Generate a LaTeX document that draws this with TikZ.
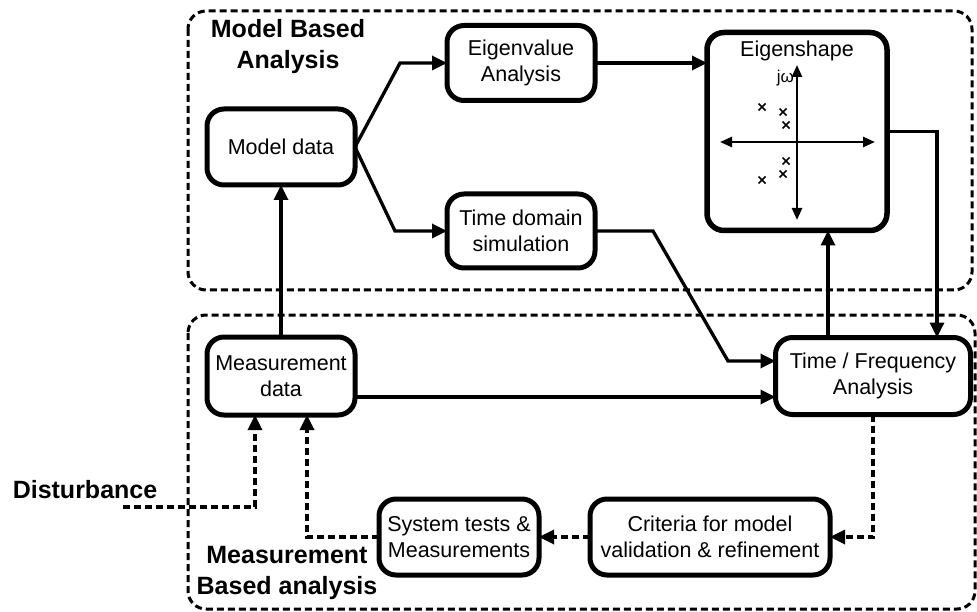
\documentclass[tikz,border=0pt]{standalone}
\usepackage{fontspec}
\setmainfont{Liberation Sans}
\usetikzlibrary{arrows.meta}

\begin{document}
\begin{tikzpicture}[x=1pt,y=-1pt,
  every node/.style={inner sep=0pt, outer sep=0pt},
  block/.style={draw, line width=5pt, rounded corners=17pt, align=center,
    font=\fontsize{21.5}{26}\selectfont},
  region/.style={line width=3pt, rounded corners=18pt, dash pattern=on 7pt off 4pt},
  conn/.style={line width=3.3pt, -{Triangle[length=15pt,width=14pt]}},
  dconn/.style={conn, dash pattern=on 7pt off 4pt},
  heading/.style={font=\bfseries\fontsize{25}{31}\selectfont, align=center},
  axis/.style={line width=2.4pt, {Triangle[length=12pt,width=10pt]}-{Triangle[length=12pt,width=10pt]}},
  pole/.style={line width=1.6pt}
]
\useasboundingbox (0,0) rectangle (977,612);

% analysis regions
\draw[region] (188,11) rectangle (972,290);
\draw[region] (188,315) rectangle (975,609);
\node[heading] (mbaTitle) at (288,47) {Model Based\\Analysis};
\node[heading] (measTitle) at (287,573) {Measurement\\Based analysis};
\node[heading] (dist) at (85,490) {Disturbance};

% blocks
\node[block, minimum width=148pt, minimum height=76pt] (md) at (281,147) {Model data};
\node[block, minimum width=148pt, minimum height=75pt] (ev) at (521,63) {Eigenvalue\\Analysis};
\node[block, minimum width=148pt, minimum height=74pt] (td) at (521,231) {Time domain\\simulation};
\node[block, line width=5.5pt, minimum width=180pt, minimum height=198pt] (es) at (797,131.5) {};
\node[font=\fontsize{21.5}{26}\selectfont] (esTitle) at (797,51) {Eigenshape};
\node[block, minimum width=148pt, minimum height=78pt] (meas) at (281,376) {Measurement\\data};
\node[block, minimum width=195pt, minimum height=77pt] (tf) at (873,376) {Time / Frequency\\Analysis};
\node[block, minimum width=160pt, minimum height=76pt] (st) at (459,537) {System tests \&\\Measurements};
\node[block, minimum width=240pt, minimum height=76pt] (cr) at (710,537) {Criteria for model\\validation \& refinement};

% pole map inside the eigenshape block
\coordinate (imTop) at (797,65);
\coordinate (imBot) at (797,220);
\coordinate (reL) at (720,142);
\coordinate (reR) at (875,142);
\draw[axis] (imBot) -- (imTop);
\draw[axis] (reL) -- (reR);
\node[font=\fontsize{17}{20}\selectfont, anchor=east] (jw) at (794,78) {jω};
\foreach \px/\py in {762/107, 783/112, 786/125, 786/161, 783/174, 762/180}
  \draw[pole] (\px-3.5,\py-3.5) -- (\px+3.5,\py+3.5) (\px-3.5,\py+3.5) -- (\px+3.5,\py-3.5);

% solid connections
\draw[conn] (md.east) -- (400,63) -- (ev.west);
\draw[conn] (md.east) -- (395,231) -- (td.west);
\draw[conn] (ev.east) -- (es.west |- ev.east);
\draw[conn] (td.east) -- (653,231) -- (728,361) -- (tf.west |- 0,361);
\draw[conn] (es.east) -- (937,131.5) -- (tf.north -| 937,0);
\draw[conn] (tf.north -| 828,0) -- (es.south -| 828,0);
\draw[conn] (meas.east |- 0,397) -- (tf.west |- 0,397);
\draw[conn] (meas.north) -- (md.south);

% dashed feedback paths
\coordinate (dstart) at (123,507);
\draw[dconn] (tf.south) |- (cr.east);
\draw[dconn] (cr.west) -- (st.east);
\draw[dconn] (st.west) -- (307,537) -- (meas.south -| 307,0);
\draw[dconn] (dstart) -- (255,507) -- (meas.south -| 255,0);
\end{tikzpicture}
\end{document}
